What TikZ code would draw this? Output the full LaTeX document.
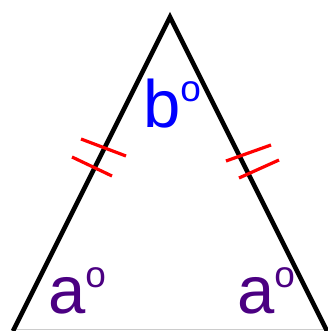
\documentclass[tikz,border=0pt]{standalone}
\usepackage{fontspec}
\setmainfont{Liberation Sans}
\definecolor{anglepurple}{RGB}{75,0,130}
\tikzset{
  side/.style={line width=4.6pt, line join=miter},
  tick/.style={red, line width=3.2pt},
  anglelabel/.style={anchor=base west, inner sep=0pt}
}
\newcommand{\degmark}{\raisebox{26pt}{\fontsize{37}{40}\selectfont o}}
\begin{document}
\begin{tikzpicture}[x=1pt,y=-1pt]
		\useasboundingbox (0,0) rectangle (328,331);
		\coordinate (L) at (13,331);
		\coordinate (T) at (170,17);
		\coordinate (R) at (327,331);
		\draw[color=black!20, line width=1pt] (13,329.5) -- (327,329.5);
		\draw[side] (L) -- (T) -- (R);
		% equal sides
		\draw[tick] (81,139) -- (126,156)  (72,157) -- (112,176);
		\draw[tick] (226,161) -- (271,145)  (239,178) -- (279,160);
		% angles
		\node[anglelabel, blue] (b) at (143,128) {\fontsize{67}{70}\selectfont b\degmark};
		\node[anglelabel, anglepurple] (aL) at (48,313) {\fontsize{67}{70}\selectfont a\degmark};
		\node[anglelabel, anglepurple] (aR) at (237,313) {\fontsize{67}{70}\selectfont a\degmark};
\end{tikzpicture}
\end{document}
